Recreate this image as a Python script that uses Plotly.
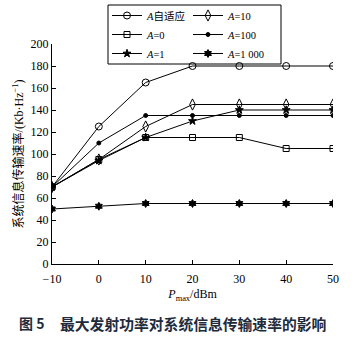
import plotly.graph_objects as go

x_vals = [-10, 0, 10, 20, 30, 40, 50]
adaptive = [70, 125, 165, 180, 180, 180, 180]
a0 = [70, 95, 115, 115, 115, 105, 105]
a1 = [70, 94, 115, 130, 140, 140, 140]
a10 = [70, 95, 125, 145, 145, 145, 145]
a100 = [70, 110, 135, 135, 135, 135, 135]
a1000 = [50, 52.5, 55, 55, 55, 55, 55]

names = ["<i>A</i>自适应", "<i>A</i>=0", "<i>A</i>=1", "<i>A</i>=10", "<i>A</i>=100", "<i>A</i>=1 000"]
series = [adaptive, a0, a1, a10, a100, a1000]
symbols = ["circle-open", "square-open", "star", "diamond-tall-open", "circle", "hexagram"]
sizes = [7, 6, 6, 8, 4, 6]
legend_ids = ["legend", "legend", "legend", "legend2", "legend2", "legend2"]

fig = go.Figure()
for n, y, s, sz, lg in zip(names, series, symbols, sizes, legend_ids):
    fig.add_trace(go.Scatter(
        x=x_vals, y=y, name=n, mode="lines+markers", legend=lg,
        line=dict(color="black", width=1),
        marker=dict(symbol=s, size=sz, color="black",
                    line=dict(color="black", width=1)),
    ))

W, H, L, R, T, B = 360, 340, 52, 27, 44, 76
pw, ph = W - L - R, H - T - B
def px_x(p):
    return (p - L) / pw
def px_y(p):
    return (H - B - p) / ph

serif = "Liberation Serif, Noto Sans CJK SC"
leg_common = dict(orientation="v", xanchor="left", yanchor="top",
                  bgcolor="rgba(0,0,0,0)", borderwidth=0,
                  font=dict(family=serif, size=10.5), itemwidth=30, tracegroupgap=0)
fig.update_layout(
    width=W, height=H,
    margin=dict(l=L, r=R, t=T, b=B, autoexpand=False),
    paper_bgcolor="white", plot_bgcolor="white",
    font=dict(family=serif, size=12, color="black"),
    showlegend=True,
    legend=dict(x=px_x(107), y=px_y(1), **leg_common),
    legend2=dict(x=px_x(188), y=px_y(1), **leg_common),
    shapes=[dict(type="rect", xref="paper", yref="paper",
                 x0=px_x(108), x1=px_x(281), y0=px_y(64), y1=px_y(5),
                 line=dict(color="black", width=1), fillcolor="white", layer="below")],
    xaxis=dict(
        range=[-10, 50], tickvals=[-10, 0, 10, 20, 30, 40, 50],
        ticktext=["−10", "0", "10", "20", "30", "40", "50"],
        showgrid=False, zeroline=False, showline=True, linecolor="black", linewidth=1,
        ticks="inside", ticklen=4, tickcolor="black", ticklabelstandoff=4,
        title=dict(text="<i>P</i><sub>max</sub>/dBm", font=dict(family=serif, size=12), standoff=4),
    ),
    yaxis=dict(
        range=[0, 200], tickvals=list(range(0, 201, 20)),
        showgrid=False, zeroline=False, showline=True, linecolor="black", linewidth=1,
        ticks="inside", ticklen=4, tickcolor="black",
        title=dict(text="系统信息传输速率/(Kb·Hz<sup>−1</sup>)", font=dict(family=serif, size=12), standoff=4),
    ),
    annotations=[
        dict(text="<b>图 5</b>", x=px_x(17), y=px_y(323), xref="paper", yref="paper",
             xanchor="left", yanchor="middle", showarrow=False,
             font=dict(family="Noto Sans CJK SC", size=14, color="#1e2b3c")),
        dict(text="<b>最大发射功率对系统信息传输速率的影响</b>", x=px_x(58), y=px_y(323),
             xref="paper", yref="paper", xanchor="left", yanchor="middle", showarrow=False,
             font=dict(family="Noto Sans CJK SC", size=14.8, color="#1e2b3c")),
    ],
)

fig.write_html("out.html")
